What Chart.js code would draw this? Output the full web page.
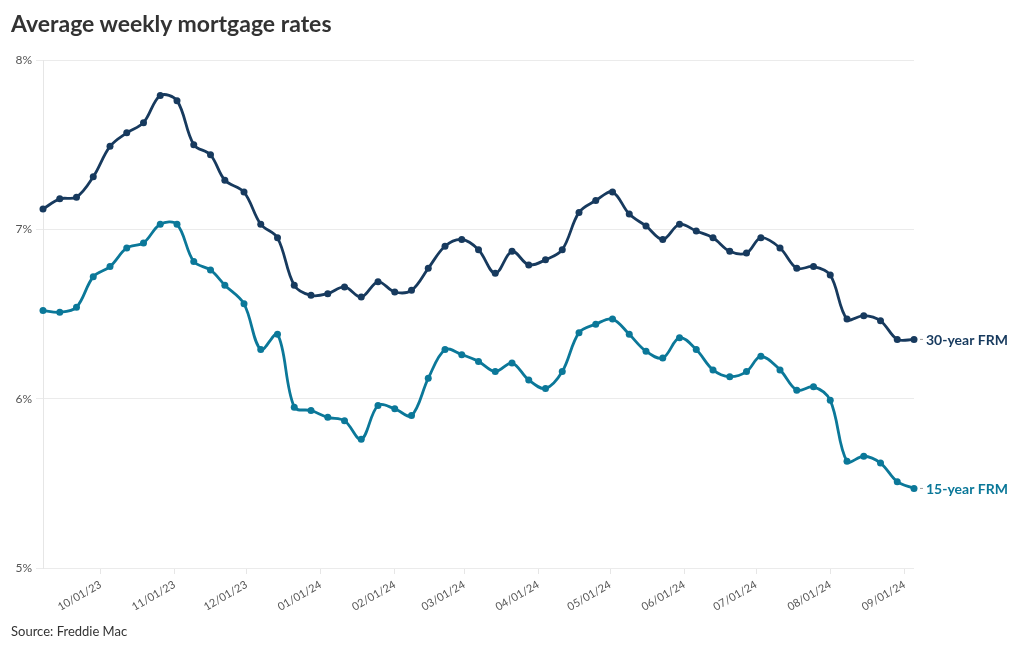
<!DOCTYPE html>
<html>
<head>
<meta charset="utf-8">
<script src="https://cdn.jsdelivr.net/npm/chart.js@4.4.1/dist/chart.umd.min.js"></script>
<style>
  html, body { margin: 0; padding: 0; background: #fff; }
  #wrap { position: relative; width: 1020px; height: 650px; }
  #title { position: absolute; left: 11px; top: 9px; font: bold 23px Lato, sans-serif; color: #333; }
  #source { position: absolute; left: 11px; top: 623px; font: 13px Lato, sans-serif; color: #333; }
  canvas { position: absolute; left: 0; top: 0; }
</style>
</head>
<body>
<div id="wrap">
  <canvas id="c" width="1020" height="650"></canvas>
  <div id="title">Average weekly mortgage rates</div>
  <div id="source">Source: Freddie Mac</div>
</div>
<script>
const weeks = [
  "2023-09-07","2023-09-14","2023-09-21","2023-09-28","2023-10-05","2023-10-12","2023-10-19","2023-10-26",
  "2023-11-02","2023-11-09","2023-11-16","2023-11-22","2023-11-30","2023-12-07","2023-12-14","2023-12-21",
  "2023-12-28","2024-01-04","2024-01-11","2024-01-18","2024-01-25","2024-02-01","2024-02-08","2024-02-15",
  "2024-02-22","2024-02-29","2024-03-07","2024-03-14","2024-03-21","2024-03-28","2024-04-04","2024-04-11",
  "2024-04-18","2024-04-25","2024-05-02","2024-05-09","2024-05-16","2024-05-23","2024-05-30","2024-06-06",
  "2024-06-13","2024-06-20","2024-06-27","2024-07-03","2024-07-11","2024-07-18","2024-07-25","2024-08-01",
  "2024-08-08","2024-08-15","2024-08-22","2024-08-29","2024-09-05"
];
const frm30 = [
  7.12,7.18,7.19,7.31,7.49,7.57,7.63,7.79,
  7.76,7.50,7.44,7.29,7.22,7.03,6.95,6.67,
  6.61,6.62,6.66,6.60,6.69,6.63,6.64,6.77,
  6.90,6.94,6.88,6.74,6.87,6.79,6.82,6.88,
  7.10,7.17,7.22,7.09,7.02,6.94,7.03,6.99,
  6.95,6.87,6.86,6.95,6.89,6.77,6.78,6.73,
  6.47,6.49,6.46,6.35,6.35
];
const frm15 = [
  6.52,6.51,6.54,6.72,6.78,6.89,6.92,7.03,
  7.03,6.81,6.76,6.67,6.56,6.29,6.38,5.95,
  5.93,5.89,5.87,5.76,5.96,5.94,5.90,6.12,
  6.29,6.26,6.22,6.16,6.21,6.11,6.06,6.16,
  6.39,6.44,6.47,6.38,6.28,6.24,6.36,6.29,
  6.17,6.13,6.16,6.25,6.17,6.05,6.07,5.99,
  5.63,5.66,5.62,5.51,5.47
];
const monthTicks = [
  "2023-10-01","2023-11-01","2023-12-01","2024-01-01","2024-02-01","2024-03-01",
  "2024-04-01","2024-05-01","2024-06-01","2024-07-01","2024-08-01","2024-09-01"
];
const seriesNames = ["30-year FRM", "15-year FRM"];
const yTicks = [5, 6, 7, 8];

const DAY = 86400000;
const toDay = s => Date.UTC(+s.slice(0,4), +s.slice(5,7) - 1, +s.slice(8,10)) / DAY;
const fmt = d => {
  const dt = new Date(d * DAY);
  const mm = String(dt.getUTCMonth() + 1).padStart(2, "0");
  const dd = String(dt.getUTCDate()).padStart(2, "0");
  const yy = String(dt.getUTCFullYear()).slice(2);
  return mm + "/" + dd + "/" + yy;
};
const toPts = arr => arr.map((v, i) => ({ x: toDay(weeks[i]), y: v }));

const C30 = "#173a5e", C15 = "#0b7899";

const endLabels = {
  id: "endLabels",
  afterDatasetsDraw(chart) {
    const ctx = chart.ctx;
    chart.data.datasets.forEach((ds, i) => {
      const meta = chart.getDatasetMeta(i);
      const p = meta.data[meta.data.length - 1];
      ctx.save();
      ctx.strokeStyle = "#999";
      ctx.lineWidth = 1;
      ctx.beginPath();
      ctx.moveTo(p.x + 6, p.y);
      ctx.lineTo(p.x + 9, p.y);
      ctx.stroke();
      ctx.fillStyle = ds.borderColor;
      ctx.font = "bold 14px Lato, sans-serif";
      ctx.textBaseline = "middle";
      ctx.textAlign = "left";
      ctx.fillText(seriesNames[i], p.x + 12, p.y + 1);
      ctx.restore();
    });
  }
};

new Chart(document.getElementById("c"), {
  type: "line",
  data: {
    datasets: [
      { label: seriesNames[0], data: toPts(frm30), borderColor: C30, backgroundColor: C30,
        borderWidth: 2.8, pointRadius: 3.5, pointBorderWidth: 0, tension: 0.35, clip: false },
      { label: seriesNames[1], data: toPts(frm15), borderColor: C15, backgroundColor: C15,
        borderWidth: 2.8, pointRadius: 3.5, pointBorderWidth: 0, tension: 0.35, clip: false }
    ]
  },
  options: {
    responsive: false,
    animation: false,
    layout: { padding: { left: 11, right: 106, top: 60, bottom: 40 } },
    plugins: { legend: { display: false }, tooltip: { enabled: false }, title: { display: false } },
    scales: {
      x: {
        type: "linear",
        min: toDay(weeks[0]),
        max: toDay(weeks[weeks.length - 1]),
        afterBuildTicks: s => { s.ticks = monthTicks.map(m => ({ value: toDay(m) })); },
        afterFit: s => { s.height = 42; },
        ticks: {
          callback: v => fmt(v),
          maxRotation: 30, minRotation: 30, autoSkip: false,
          font: { family: "Lato", size: 11 }, color: "#555", padding: 4
        },
        grid: { drawOnChartArea: false, drawTicks: true, tickLength: 6, color: "#e6e6e6" },
        border: { display: false }
      },
      y: {
        min: 5, max: 8,
        afterBuildTicks: s => { s.ticks = yTicks.map(v => ({ value: v })); },
        afterFit: s => { s.width = 32; },
        ticks: { callback: v => v + "%", font: { family: "Lato", size: 12 }, color: "#555", padding: 4 },
        grid: { color: "#ebebeb", tickLength: 7, lineWidth: 1 },
        border: { display: true, color: "#e6e6e6" }
      }
    }
  },
  plugins: [endLabels]
});
</script>
</body>
</html>
